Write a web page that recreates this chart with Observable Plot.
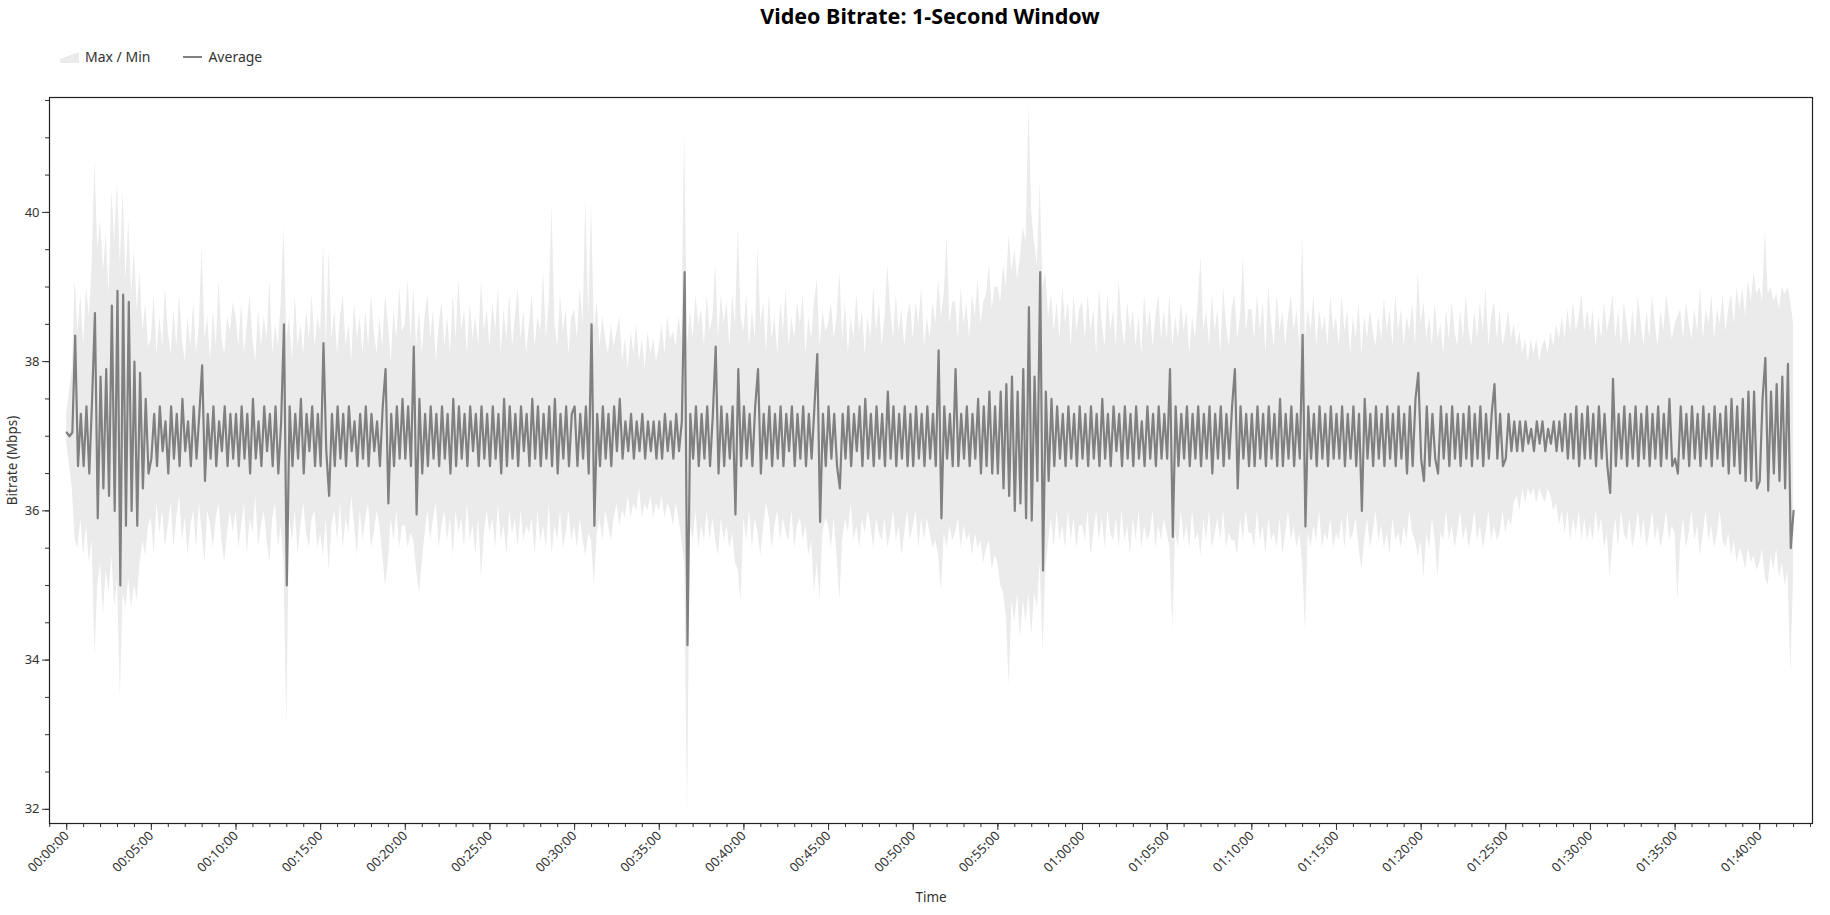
<!DOCTYPE html>
<html>
<head>
<meta charset="utf-8">
<script src="https://cdn.jsdelivr.net/npm/d3@7"></script>
<script src="https://cdn.jsdelivr.net/npm/@observablehq/plot@0.6"></script>
<style>
  html, body { margin: 0; padding: 0; background: #fff; }
  body { width: 1830px; height: 915px; overflow: hidden; font-family: "Noto Sans", "Open Sans", sans-serif; }
  #header { position: relative; width: 1830px; height: 80px; }
  #title { position: absolute; left: 930px; top: 1px; transform: translateX(-50%); font-size: 21.5px; font-weight: bold; color: #000; white-space: nowrap; }
  #legend { position: absolute; left: 60px; top: 47px; display: flex; align-items: center; font-size: 14px; color: #333; }
  .item { display: flex; align-items: center; margin-right: 33px; }
  .item svg { margin-right: 6px; }
  #chart svg { display: block; }
</style>
</head>
<body>
<div id="header">
  <div id="title">Video Bitrate: 1-Second Window</div>
  <div id="legend"></div>
</div>
<div id="chart"></div>
<script>
// Sampling step of the series below (seconds)
const STEP = 10;

// Average bitrate (Mbps), one value every 10 s; each line = 5 minutes
const avg = [
37.05,37.0,37.05,38.35,36.6,37.3,36.6,37.4,36.5,37.5,38.65,35.9,37.8,36.3,37.9,36.2,38.75,36.0,38.95,35.0,38.9,35.8,38.8,36.0,38.0,35.8,37.85,36.3,37.5,36.5,
36.7,37.3,36.6,37.4,36.8,37.2,36.5,37.4,36.7,37.3,36.6,37.5,36.8,37.2,36.6,37.4,36.7,37.3,37.95,36.4,37.3,36.7,37.4,36.6,37.2,36.8,37.4,36.6,37.3,36.7,
37.3,36.6,37.4,36.7,37.3,36.5,37.5,36.7,37.2,36.6,37.4,36.8,37.3,36.6,37.4,36.5,37.2,38.5,35.0,37.4,36.6,37.3,36.7,37.5,36.5,37.3,36.8,37.4,36.6,37.3,
36.6,38.25,36.8,36.2,37.3,36.6,37.4,36.7,37.3,36.6,37.4,36.8,37.2,36.6,37.3,36.7,37.4,36.6,37.3,36.8,37.2,36.6,37.4,37.9,36.1,37.3,36.6,37.4,36.7,37.5,
36.7,37.4,36.6,38.2,35.95,37.5,36.5,37.3,36.6,37.4,36.7,37.3,36.6,37.4,36.7,37.3,36.5,37.5,36.6,37.4,36.7,37.3,36.6,37.4,36.8,37.3,36.6,37.4,36.7,37.3,
36.6,37.4,36.7,37.3,36.5,37.5,36.6,37.4,36.7,37.3,36.6,37.4,36.8,37.3,36.6,37.5,36.7,37.4,36.6,37.3,36.7,37.4,36.6,37.5,36.5,37.3,36.7,37.4,36.6,37.3,
37.4,36.6,37.3,36.7,37.4,36.5,38.5,35.8,37.3,36.6,37.4,36.7,37.3,36.6,37.4,36.8,37.5,36.7,37.2,36.8,37.3,36.7,37.2,36.8,37.3,36.7,37.2,36.8,37.2,36.7,
37.2,36.7,37.3,36.8,37.2,36.7,37.3,36.8,37.2,39.2,34.2,37.3,36.7,37.4,36.6,37.3,36.7,37.4,36.6,37.3,38.2,36.5,37.4,36.6,37.3,36.7,37.4,35.95,37.9,36.6,
37.4,36.7,37.3,36.6,37.4,37.9,36.5,37.3,36.7,37.4,36.6,37.3,36.7,37.4,36.6,37.3,36.8,37.4,36.6,37.3,36.7,37.4,36.6,37.3,36.7,37.4,38.1,35.85,37.3,36.6,
37.4,36.7,37.3,36.6,36.3,37.3,36.7,37.4,36.6,37.3,36.8,37.4,36.6,37.5,36.7,37.3,36.6,37.4,36.7,37.3,36.6,37.6,36.7,37.4,36.6,37.3,36.7,37.4,36.6,37.3,
36.6,37.4,36.7,37.3,36.6,37.4,36.7,37.3,36.6,38.15,35.9,37.4,36.7,37.3,36.6,37.9,36.6,37.3,36.7,37.4,36.6,37.3,36.7,37.5,36.5,37.4,36.6,37.6,36.5,37.4,
36.5,37.6,36.3,37.7,36.2,37.8,36.0,37.6,36.1,37.9,35.9,38.73,35.87,37.8,36.4,39.2,35.2,37.6,36.4,37.5,36.6,37.4,36.7,37.3,36.6,37.4,36.7,37.3,36.6,37.4,
36.7,37.3,36.6,37.4,36.7,37.3,36.6,37.5,36.7,37.3,36.6,37.4,36.8,37.3,36.6,37.4,36.7,37.3,36.6,37.4,36.7,37.2,36.6,37.4,36.7,37.3,36.6,37.4,36.7,37.3,
36.7,37.9,35.65,37.4,36.6,37.3,36.7,37.4,36.6,37.3,36.7,37.4,36.6,37.3,36.7,37.4,36.5,37.3,36.7,37.4,36.6,37.3,36.7,37.4,37.9,36.3,37.4,36.7,37.3,36.6,
37.3,36.6,37.4,36.7,37.3,36.6,37.4,36.7,37.3,36.6,37.5,36.6,37.3,36.7,37.4,36.6,37.3,36.7,38.36,35.79,37.4,36.7,37.3,36.6,37.4,36.7,37.3,36.6,37.4,36.7,
37.3,36.7,37.4,36.6,37.3,36.7,37.4,36.6,37.3,36.0,37.5,36.7,37.3,36.6,37.4,36.7,37.3,36.6,37.4,36.7,37.3,36.6,37.4,36.7,37.3,36.5,37.4,36.6,37.5,37.85,
36.7,36.4,37.4,36.6,37.3,36.7,36.5,37.4,36.7,37.3,36.6,37.4,36.7,37.3,36.6,37.3,36.7,37.4,36.6,37.3,36.7,37.4,36.6,37.3,36.7,37.3,37.7,36.7,37.3,36.6,
36.7,37.3,36.8,37.2,36.8,37.2,36.8,37.2,36.9,37.1,36.8,37.2,36.9,37.2,36.8,37.1,36.9,37.2,36.8,37.2,36.8,37.3,36.7,37.3,36.7,37.4,36.6,37.3,36.7,37.4,
36.7,37.3,36.6,37.4,36.7,37.3,36.6,36.24,37.77,36.6,37.3,36.7,37.4,36.6,37.3,36.7,37.4,36.6,37.3,36.7,37.4,36.6,37.3,36.7,37.4,36.6,37.3,36.7,37.5,36.6,
36.7,36.5,37.4,36.7,37.3,36.6,37.4,36.7,37.3,36.6,37.4,36.7,37.3,36.6,37.4,36.7,37.3,36.6,37.4,36.5,37.5,36.6,37.4,36.5,37.5,36.4,37.6,36.4,37.6,36.3,
36.4,37.5,38.05,36.27,37.6,36.5,37.7,36.4,37.8,36.3,37.97,35.5,36.0
];

// Maximum bitrate within each sample window (Mbps)
const maxv = [
37.3,37.6,37.9,39.1,38.4,38.9,38.2,39.0,38.6,39.3,40.7,39.5,39.9,39.2,39.7,38.9,40.3,39.6,40.4,39.3,40.3,39.1,39.9,38.9,39.5,38.7,39.2,38.4,38.8,38.2,
38.3,38.9,38.1,38.6,38.2,39.0,38.4,38.1,38.7,38.2,38.9,38.3,38.0,38.6,38.2,38.8,38.1,38.5,39.55,38.3,38.6,38.0,38.7,38.2,39.1,38.3,38.1,38.6,38.4,38.8,
38.6,38.2,38.8,38.1,38.5,38.9,38.3,38.0,38.7,38.2,38.6,38.3,39.1,38.1,38.5,38.2,38.8,39.8,38.3,38.6,38.0,38.9,38.2,38.5,38.1,38.7,38.3,38.9,38.2,38.6,
38.4,39.6,38.2,39.5,38.3,38.7,38.1,38.6,38.9,38.2,38.5,38.0,38.8,38.3,38.6,38.1,38.7,38.2,38.9,38.4,38.1,38.6,38.2,38.9,38.5,38.0,38.7,38.3,39.0,38.4,
38.5,39.1,38.3,39.0,38.2,38.7,38.1,38.6,38.9,38.3,38.7,38.0,38.5,38.8,38.2,38.6,38.1,38.9,38.3,39.1,38.4,38.7,38.1,38.8,38.3,38.6,38.2,39.1,38.4,38.7,
38.2,38.8,38.4,39.0,38.1,38.7,38.3,38.9,38.2,38.6,39.0,38.3,38.7,38.1,38.5,38.9,38.2,38.6,38.4,39.2,38.3,38.8,40.1,38.5,38.2,38.9,38.4,38.7,38.1,38.6,
38.7,38.3,39.0,38.5,40.2,38.6,40.1,38.4,38.8,38.2,38.6,38.3,38.1,38.5,38.2,38.4,38.6,38.0,38.3,37.9,38.4,38.1,38.5,38.0,38.3,37.9,38.4,38.1,38.3,38.0,
38.2,38.5,38.1,38.6,38.3,38.4,38.2,38.6,38.3,41.1,38.2,38.7,38.3,38.9,38.5,38.7,38.2,38.9,38.4,38.6,39.3,38.3,38.9,38.5,38.8,38.2,38.9,38.5,39.8,38.6,
38.4,38.9,38.2,38.7,38.3,39.55,38.5,38.8,38.1,38.9,38.3,38.6,38.1,38.8,38.4,39.0,38.2,38.6,38.3,38.8,38.5,38.9,38.1,38.6,38.3,38.8,39.1,38.2,38.7,38.4,
38.5,38.8,38.3,38.6,39.2,38.3,38.8,38.1,38.6,38.3,38.9,38.4,38.7,38.1,38.6,38.3,39.0,38.4,38.8,38.2,38.6,39.3,38.7,38.3,38.9,38.4,38.7,38.2,38.6,38.8,
38.3,38.8,38.5,39.0,38.2,38.6,38.3,38.8,38.5,39.1,38.6,38.9,39.7,38.5,38.8,38.8,38.3,39.0,38.5,38.8,38.3,38.9,38.6,39.1,38.5,38.8,38.9,39.3,38.7,39.0,
39.0,38.8,39.3,39.0,39.7,39.2,39.5,39.1,39.4,39.8,39.6,41.45,40.0,39.6,39.3,40.4,39.0,39.2,38.6,38.9,38.4,38.8,38.3,39.0,38.5,38.8,38.2,38.9,38.4,38.7,
38.8,38.3,38.9,38.4,38.7,38.1,39.0,38.5,38.2,38.9,38.4,38.7,38.2,39.1,38.5,38.2,38.8,38.4,38.7,38.2,38.6,38.1,38.9,38.4,38.7,38.2,38.6,38.9,38.3,38.7,
38.3,38.9,38.2,38.6,38.3,38.8,38.4,38.7,38.1,38.6,38.3,38.8,39.4,38.4,38.7,38.2,38.9,38.4,38.7,38.1,39.0,38.5,38.2,38.7,38.9,38.3,38.6,39.4,38.4,38.7,
38.7,38.3,38.9,38.4,38.8,38.1,39.0,38.5,38.2,38.9,38.4,38.7,38.2,38.6,38.9,38.4,38.7,38.2,39.7,38.3,38.7,38.4,38.9,38.2,38.7,38.4,38.6,38.2,38.9,38.4,
38.6,38.2,38.9,38.4,38.7,38.1,38.6,38.3,38.8,38.1,38.6,38.3,38.7,38.4,38.2,38.6,38.3,38.85,38.4,38.7,38.2,38.9,38.4,38.7,38.2,38.6,38.4,38.8,38.2,39.2,
38.5,38.8,38.3,38.6,38.2,38.8,38.3,38.5,38.1,38.7,38.3,38.8,38.4,38.2,38.7,38.3,38.9,38.4,38.2,38.7,38.3,38.8,38.4,39.0,38.2,38.6,38.8,38.3,38.7,38.2,
38.4,38.7,38.3,38.5,38.2,38.4,38.1,38.3,38.0,38.3,38.1,38.3,38.0,38.2,38.3,38.1,38.4,38.2,38.5,38.3,38.6,38.3,38.7,38.4,38.8,38.4,38.6,38.9,38.4,38.7,
38.4,38.7,38.2,38.6,38.3,38.8,38.4,38.6,38.9,38.3,38.7,38.2,38.8,38.5,38.2,38.7,38.3,38.9,38.5,38.2,38.7,38.3,38.9,38.5,38.2,38.7,38.4,38.9,38.6,38.3,
38.5,38.6,38.7,38.3,38.8,38.5,38.3,38.7,38.4,39.0,38.3,38.7,38.5,38.9,38.3,38.7,38.5,38.9,38.4,38.7,38.9,38.5,39.0,38.7,39.0,38.6,39.1,38.8,39.2,38.9,
39.0,38.8,39.78,38.9,39.0,38.8,38.9,38.7,39.0,38.9,39.0,38.8,38.5
];

// Minimum bitrate within each sample window (Mbps)
const minv = [
36.9,36.6,36.3,35.6,35.5,35.9,35.4,35.8,35.3,35.6,34.05,35.0,35.3,34.6,35.2,34.9,35.4,34.7,35.1,33.5,34.9,34.7,35.1,34.7,35.0,34.8,35.3,35.6,35.4,35.8,
35.9,35.4,36.1,35.7,36.0,35.5,35.8,36.1,35.5,35.9,36.2,35.6,35.9,35.4,35.8,36.0,35.5,36.1,35.7,35.3,36.0,35.8,35.5,35.9,36.1,35.6,35.3,35.7,36.0,35.7,
36.0,35.5,35.8,36.1,35.4,35.9,35.7,36.2,35.5,35.8,36.0,35.6,35.3,35.9,36.1,35.5,35.8,35.3,33.1,35.9,35.6,36.0,35.4,35.8,36.1,35.7,35.5,35.9,36.0,35.5,
35.7,35.4,35.9,35.2,35.8,36.0,35.6,36.1,35.5,35.9,35.7,36.2,35.8,35.4,36.0,35.6,35.9,36.1,35.5,35.7,36.0,35.8,35.4,35.0,35.3,35.9,35.6,36.0,35.5,35.8,
35.8,35.5,35.7,35.6,35.2,34.9,35.3,35.7,36.0,35.6,35.9,36.1,35.5,35.8,36.0,35.6,35.9,35.4,36.0,35.7,35.9,35.5,36.1,35.6,35.8,35.4,35.9,35.1,35.7,36.0,
35.7,35.9,35.5,36.1,35.6,35.8,35.4,36.0,35.7,35.9,35.5,36.0,35.6,35.8,35.7,35.9,35.4,36.0,35.6,35.8,35.5,36.1,35.4,35.8,35.6,36.0,35.5,35.7,36.0,35.6,
35.8,35.5,35.9,35.6,35.4,35.7,35.6,35.0,35.7,35.9,35.6,36.0,35.8,35.6,35.9,36.1,35.8,36.0,35.9,36.2,35.9,36.1,36.0,36.3,35.9,36.1,36.0,36.2,35.9,36.1,
36.0,36.2,35.9,36.1,36.0,35.8,36.1,35.9,35.6,35.3,31.9,35.8,35.6,36.0,35.5,35.8,35.6,36.0,35.6,35.9,35.6,35.4,35.9,35.6,35.8,35.5,35.7,35.3,35.2,34.8,
35.9,35.6,36.0,35.5,35.9,35.7,35.4,35.8,36.1,35.9,35.5,35.8,36.0,35.6,35.9,35.7,35.6,36.0,35.5,35.8,35.9,35.6,35.8,35.4,35.6,34.9,35.3,34.8,35.7,35.9,
35.8,35.5,35.9,35.4,34.8,35.6,35.9,35.7,36.1,35.6,35.8,35.5,35.9,35.7,36.0,35.8,35.5,35.9,35.7,35.6,35.9,35.5,35.7,36.0,35.6,35.8,35.4,35.7,36.0,35.6,
35.8,36.0,35.5,35.9,35.6,35.9,35.7,35.5,35.6,35.4,34.9,35.7,35.5,35.8,35.6,35.7,35.9,35.5,35.8,35.6,35.7,35.4,35.7,35.5,35.6,35.3,35.5,35.6,35.2,35.4,
35.3,35.0,34.9,34.6,33.66,34.8,34.5,34.9,34.3,34.8,34.5,34.9,34.33,34.9,34.7,35.3,34.1,35.2,35.6,35.9,35.5,36.0,35.6,35.8,35.5,36.0,35.6,35.9,35.5,35.8,
35.8,35.6,36.0,35.4,35.7,36.0,35.6,35.9,35.5,36.0,35.7,35.6,35.9,35.5,36.0,35.6,35.8,35.4,35.9,35.6,36.0,35.5,35.8,35.6,35.7,36.0,35.5,35.8,35.6,35.9,
35.7,35.5,34.4,35.7,35.5,36.0,35.6,35.8,35.5,36.0,35.6,35.7,35.4,35.9,35.6,36.0,35.5,35.7,35.9,35.6,36.0,35.5,35.7,35.6,35.6,35.4,35.9,35.6,36.0,35.7,
35.7,35.5,36.0,35.6,35.8,35.4,35.9,35.6,35.7,35.5,35.9,35.4,35.7,36.0,35.6,35.8,35.5,35.7,35.3,34.4,35.7,35.5,35.8,35.6,36.0,35.5,35.7,35.6,35.9,35.5,
35.7,35.6,35.9,35.5,36.0,35.6,35.7,35.9,35.5,35.2,35.6,35.9,35.5,35.7,36.0,35.6,35.8,35.5,35.7,35.4,35.9,35.6,35.7,35.5,35.8,35.6,36.0,35.7,35.6,35.4,
35.6,35.1,35.7,35.5,35.9,35.6,35.1,35.7,35.6,36.0,35.6,35.8,35.5,35.7,36.0,35.6,35.8,35.5,35.7,36.0,35.6,35.8,35.5,35.7,36.0,35.6,35.8,35.6,35.7,36.0,
35.7,35.9,35.8,36.1,36.2,36.0,36.3,36.1,36.3,36.2,36.3,36.1,36.3,36.2,36.1,36.3,36.2,36.0,36.1,35.8,36.0,35.7,36.0,35.6,35.9,35.7,36.0,35.6,35.9,35.6,
35.8,35.6,36.0,35.7,35.9,35.5,35.7,35.1,35.6,35.9,35.5,36.0,35.7,35.6,35.9,35.5,35.7,36.0,35.6,35.9,35.5,35.7,36.0,35.6,35.8,35.5,35.7,36.0,35.6,35.8,
35.7,34.8,35.6,35.9,35.5,35.7,36.0,35.6,35.8,35.4,35.7,36.0,35.6,35.8,35.5,35.7,36.0,35.6,35.5,35.7,35.4,35.6,35.3,35.5,35.4,35.2,35.5,35.3,35.4,35.2,
35.3,35.5,35.1,35.0,35.4,35.2,35.5,35.1,35.3,35.0,35.2,33.83,35.1
];

// Axis ticks (seconds) and y tick values
const xMajorTicks = d3.range(0, 6001, 300);
const xMinorTicks = d3.range(-60, 6181, 60);
const yMajorTicks = [32, 34, 36, 38, 40];
const yMinorTicks = d3.range(32, 41.51, 0.5);

const n = Math.min(avg.length, maxv.length, minv.length);
const series = d3.range(n).map(i => ({t: i * STEP, avg: avg[i], max: maxv[i], min: minv[i]}));

const hms = s => {
  const h = Math.floor(s / 3600), m = Math.floor((s % 3600) / 60), sec = s % 60;
  return [h, m, sec].map(v => String(v).padStart(2, "0")).join(":");
};

const AREA = "#ebebeb", LINE = "#808080", INK = "#333";

// Legend
document.getElementById("legend").innerHTML = `
  <div class="item"><svg width="19" height="14"><polygon points="0,13 0,9 19,2 19,13" fill="${AREA}"/></svg><span>Max / Min</span></div>
  <div class="item"><svg width="19" height="14"><line x1="0" y1="7" x2="19" y2="7" stroke="${LINE}" stroke-width="2"/></svg><span>Average</span></div>`;

const chart = Plot.plot({
  width: 1830,
  height: 835,
  marginLeft: 49,
  marginRight: 18,
  marginTop: 17,
  marginBottom: 92,
  style: {fontFamily: '"Noto Sans", "Open Sans", sans-serif', fontSize: "13px", color: INK, background: "#fff", overflow: "visible"},
  x: {domain: [-61, 6187], axis: null},
  y: {domain: [31.81, 41.54], axis: null},
  marks: [
    Plot.areaY(series, {x: "t", y1: "min", y2: "max", fill: AREA}),
    Plot.lineY(series, {x: "t", y: "avg", stroke: LINE, strokeWidth: 2.2}),
    Plot.axisX({ticks: xMinorTicks, tickSize: 4, tickFormat: () => "", label: null}),
    Plot.axisX({ticks: xMajorTicks, tickSize: 7, tickFormat: hms, tickRotate: -45, tickPadding: 3, label: null, fontSize: 13}),
    Plot.axisY({ticks: yMinorTicks, tickSize: 4, tickFormat: () => "", label: null}),
    Plot.axisY({ticks: yMajorTicks, tickSize: 7, tickFormat: d => String(d), tickPadding: 3, label: null, fontSize: 13}),
    Plot.frame({stroke: "#222", strokeWidth: 1.2}),
    Plot.text(["Time"], {text: d => d, frameAnchor: "bottom", dy: 78, fontSize: 13.5, fill: INK}),
    Plot.text(["Bitrate (Mbps)"], {text: d => d, frameAnchor: "left", dx: -37, rotate: -90, textAnchor: "middle", lineAnchor: "middle", fontSize: 13.5, fill: INK})
  ]
});
document.getElementById("chart").appendChild(chart);
</script>
</body>
</html>
